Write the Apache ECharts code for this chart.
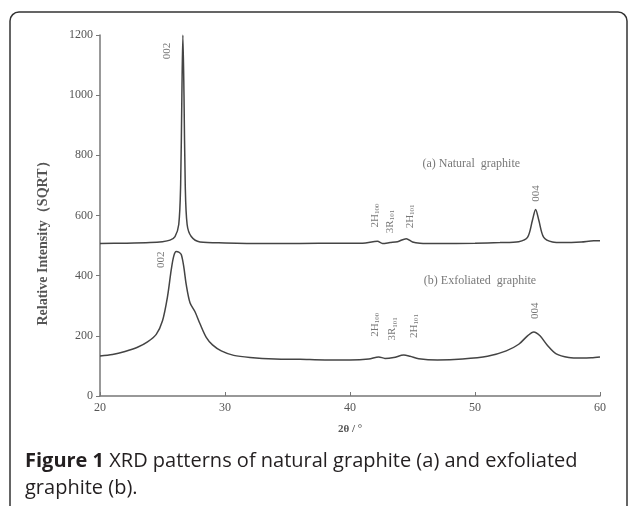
<!DOCTYPE html>
<html><head><meta charset="utf-8">
<script src="https://cdn.jsdelivr.net/npm/echarts@6/dist/echarts.min.js"></script>
<style>html,body{margin:0;padding:0;background:#fff}#c{width:629px;height:506px}</style>
</head><body><div id="c"></div>
<script>
// Natural graphite (a)
const natX = [20,22,24,25,25.6,26.0,26.3,26.45,26.55,26.63,26.72,26.82,26.97,27.3,28,30,33,36,39,41,42.2,42.6,43.2,43.8,44.5,45.0,45.6,47,50,52,53.5,54.2,54.6,54.85,55.1,55.5,56.2,57,58.5,59.5,60];
const natY = [507,508,510,513,518,530,570,700,1000,1200,1000,700,570,530,512,509,507,507,508,508,514,507,510,513,523,512,508,507,508,510,513,527,585,620,585,527,512,510,512,516,516];
// Exfoliated graphite (b)
const exfX = [20,21,22,23,23.8,24.5,25.0,25.4,25.7,25.9,26.1,26.3,26.5,26.7,26.9,27.2,27.6,28.0,28.5,29,29.7,30.7,32,34,36,38,40,41.5,42.3,42.8,43.5,44.3,44.8,45.5,47,49,51,52.5,53.5,54.2,54.7,55.2,55.8,56.5,57.5,58.5,59.3,60];
const exfY = [133,138,148,162,180,205,250,330,420,465,480,478,470,430,370,310,280,240,195,170,150,135,128,123,122,120,120,123,130,125,128,136,132,124,120,123,132,150,172,200,213,200,168,140,128,126,127,130];
// Peak annotations
const annoX = [25.4, 42.0, 43.2, 44.8, 54.9, 24.9, 42.0, 43.4, 45.1, 54.8];
const annoY = [1147, 600, 580, 597, 673, 453, 237, 223, 233, 283];
const annoText = ['002','{m|2H}{s|100}','{m|3R}{s|101}','{m|2H}{s|101}','004','002','{m|2H}{s|100}','{m|3R}{s|101}','{m|2H}{s|101}','004'];
// Series labels
const seriesLabelX = [49.7, 50.4];
const seriesLabelY = [773, 383];
const seriesLabels = ['(a) Natural  graphite', '(b) Exfoliated  graphite'];
const xTicks = [20,30,40,50,60];
const yTicks = [0,200,400,600,800,1000,1200];

const serif = '"Liberation Serif","DejaVu Serif",serif';
const chart = echarts.init(document.getElementById('c'));
const zip = (xs, ys) => xs.map((x, i) => [x, ys[i]]);
chart.setOption({
  animation: false,
  backgroundColor: '#fff',
  title: {
    left: 20, top: 443,
    text: '{b|Figure 1} XRD patterns of natural graphite (a) and exfoliated\ngraphite (b).',
    textStyle: {
      fontFamily: '"Open Sans", sans-serif', fontSize: 20, fontWeight: 'normal', color: '#231f20', lineHeight: 27,
      rich: { b: { fontFamily: '"Open Sans", sans-serif', fontSize: 20, fontWeight: 'bold', color: '#231f20', lineHeight: 27 } }
    }
  },
  graphic: [
    { type: 'rect', shape: { x: 10, y: 12, width: 617, height: 520, r: [9, 9, 0, 0] },
      style: { fill: 'none', stroke: '#333', lineWidth: 1.5 }, silent: true },
    { type: 'text', x: 43, y: 240, rotation: Math.PI / 2,
      style: { text: 'Relative Intensity（SQRT）', fontFamily: serif, fontWeight: 'bold', fontSize: 14,
        fill: '#555', align: 'center', verticalAlign: 'middle' } }
  ],
  grid: { left: 100, right: 29, top: 35, bottom: 110 },
  xAxis: {
    type: 'value', min: 20, max: 60, interval: 10,
    name: '2θ / °', nameLocation: 'middle', nameGap: 28,
    nameTextStyle: { fontFamily: serif, fontWeight: 'bold', fontSize: 11, color: '#555' },
    axisLine: { lineStyle: { color: '#777', width: 1.5 } },
    axisTick: { show: true, inside: true, length: 4, lineStyle: { color: '#777' } },
    axisLabel: { fontFamily: serif, fontSize: 12, color: '#555', margin: 6,
      formatter: v => xTicks.includes(v) ? String(v) : '' },
    splitLine: { show: false }
  },
  yAxis: {
    type: 'value', min: 0, max: 1200, interval: 200,
    axisLine: { show: true, lineStyle: { color: '#777', width: 1.5 } },
    axisTick: { show: true, inside: false, length: 4, lineStyle: { color: '#777' } },
    axisLabel: { fontFamily: serif, fontSize: 12, color: '#555', margin: 7,
      formatter: v => yTicks.includes(v) ? String(v) : '' },
    splitLine: { show: false }
  },
  series: [
    { type: 'line', name: 'Natural graphite', data: zip(natX, natY), showSymbol: false, smooth: 0.3,
      lineStyle: { color: '#444', width: 1.5 } },
    { type: 'line', name: 'Exfoliated graphite', data: zip(exfX, exfY), showSymbol: false, smooth: 0.3,
      lineStyle: { color: '#444', width: 1.5 } },
    { type: 'scatter', symbolSize: 0, silent: true,
      data: annoX.map((x, i) => ({ value: [x, annoY[i]], text: annoText[i] })),
      label: { show: true, position: 'inside', rotate: 90, fontFamily: serif, fontSize: 11, color: '#555',
        formatter: p => p.data.text,
        rich: { m: { fontFamily: serif, fontSize: 11, color: '#555' },
                s: { fontFamily: serif, fontSize: 7, color: '#555', padding: [5, 0, 0, 0] } } } },
    { type: 'scatter', symbolSize: 0, silent: true,
      data: seriesLabelX.map((x, i) => ({ value: [x, seriesLabelY[i]], text: seriesLabels[i] })),
      label: { show: true, position: 'inside', fontFamily: serif, fontSize: 12, color: '#555',
        formatter: p => p.data.text } }
  ]
});
</script></body></html>
